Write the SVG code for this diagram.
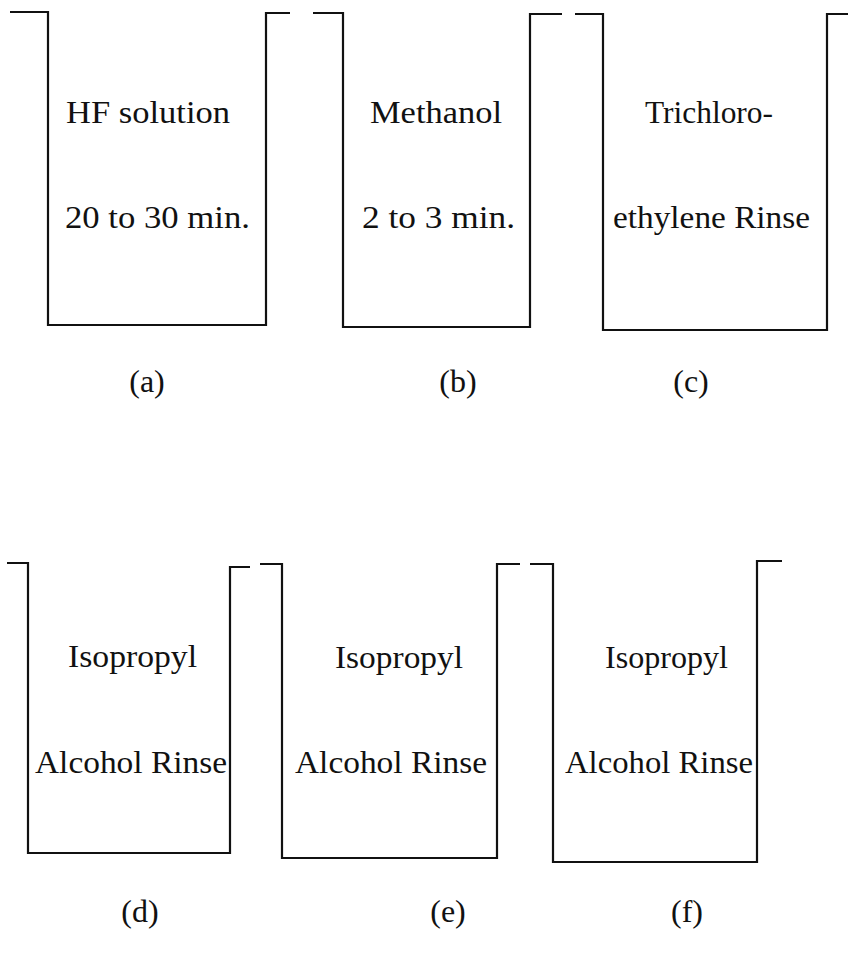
<svg xmlns="http://www.w3.org/2000/svg" width="849" height="966" viewBox="0 0 849 966">
  <style>
    .tank { fill: none; stroke: #111; stroke-width: 2.2; stroke-linejoin: miter; stroke-linecap: butt; }
    .t { font-family: "Liberation Serif", "DejaVu Serif", serif; font-size: 32px; fill: #111; }
    .lbl { font-family: "Liberation Serif", "DejaVu Serif", serif; font-size: 32px; fill: #111; text-anchor: middle; }
  </style>
  <rect width="849" height="966" fill="#fff"/>

  <!-- top row: etch and rinse baths -->
  <g id="tank-a">
    <path class="tank" d="M10,12 H48 V325 H266 V13 H290"/>
    <text class="t" x="66" y="123" textLength="164" lengthAdjust="spacingAndGlyphs">HF solution</text>
    <text class="t" x="65" y="228" textLength="185" lengthAdjust="spacingAndGlyphs">20 to 30 min.</text>
    <text class="lbl" x="147" y="392">(a)</text>
  </g>
  <g id="tank-b">
    <path class="tank" d="M313,13 H343 V327 H530 V14 H562"/>
    <text class="t" x="370" y="123" textLength="132" lengthAdjust="spacingAndGlyphs">Methanol</text>
    <text class="t" x="362" y="228" textLength="153" lengthAdjust="spacingAndGlyphs">2 to 3 min.</text>
    <text class="lbl" x="458" y="392">(b)</text>
  </g>
  <g id="tank-c">
    <path class="tank" d="M575,14 H603 V330 H827 V14 H848"/>
    <text class="t" x="645" y="123" textLength="128" lengthAdjust="spacingAndGlyphs">Trichloro-</text>
    <text class="t" x="613" y="228" textLength="197" lengthAdjust="spacingAndGlyphs">ethylene Rinse</text>
    <text class="lbl" x="691" y="392">(c)</text>
  </g>

  <!-- bottom row: alcohol rinse baths -->
  <g id="tank-d">
    <path class="tank" d="M7,563 H28 V853 H230 V567 H250"/>
    <text class="t" x="68" y="667" textLength="129" lengthAdjust="spacingAndGlyphs">Isopropyl</text>
    <text class="t" x="35" y="773" textLength="192" lengthAdjust="spacingAndGlyphs">Alcohol Rinse</text>
    <text class="lbl" x="140" y="922">(d)</text>
  </g>
  <g id="tank-e">
    <path class="tank" d="M260,564 H282 V858 H497 V564 H520"/>
    <text class="t" x="335" y="668" textLength="128" lengthAdjust="spacingAndGlyphs">Isopropyl</text>
    <text class="t" x="295" y="773" textLength="192" lengthAdjust="spacingAndGlyphs">Alcohol Rinse</text>
    <text class="lbl" x="448" y="922">(e)</text>
  </g>
  <g id="tank-f">
    <path class="tank" d="M530,564 H553 V862 H757 V561 H782"/>
    <text class="t" x="605" y="668" textLength="123" lengthAdjust="spacingAndGlyphs">Isopropyl</text>
    <text class="t" x="565" y="773" textLength="188" lengthAdjust="spacingAndGlyphs">Alcohol Rinse</text>
    <text class="lbl" x="687" y="922">(f)</text>
  </g>

  <g id="connectors"/>
</svg>
